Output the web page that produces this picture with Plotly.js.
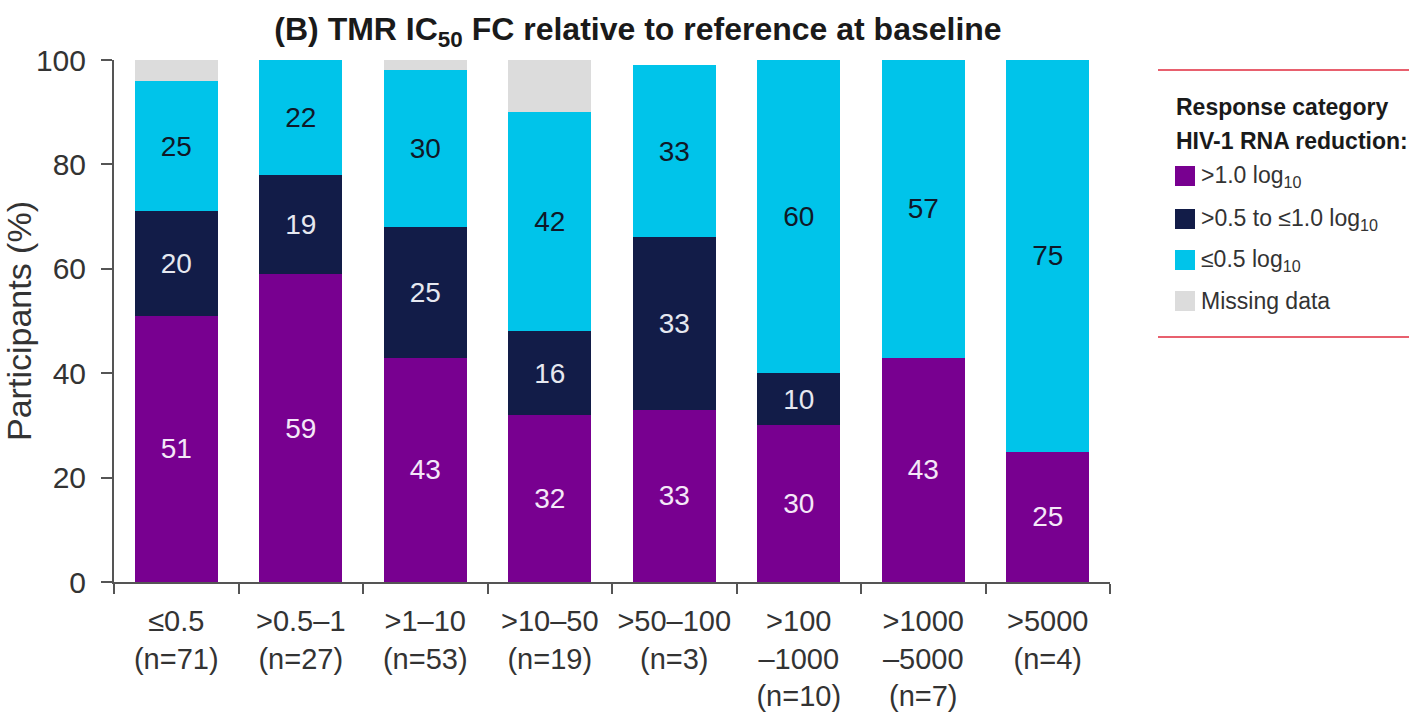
<!DOCTYPE html>
<html>
<head>
<meta charset="utf-8">
<script src="https://cdn.plot.ly/plotly-3.0.1.min.js"></script>
<style>
  html, body { margin: 0; padding: 0; background: #ffffff; }
  #chart { width: 1409px; height: 716px; }
</style>
</head>
<body>
<div id="chart"></div>
<script>
// Fold-change bins of baseline TMR IC50 relative to reference
const categories = [
  '≤0.5<br>(n=71)',
  '>0.5–1<br>(n=27)',
  '>1–10<br>(n=53)',
  '>10–50<br>(n=19)',
  '>50–100<br>(n=3)',
  '>100<br>–1000<br>(n=10)',
  '>1000<br>–5000<br>(n=7)',
  '>5000<br>(n=4)'
];

// Percent of participants per response category (null = no segment)
const above1_0 = [51, 59, 43, 32, 33, 30, 43, 25];
const from0_5to1_0 = [20, 19, 25, 16, 33, 10, null, null];
const upTo0_5 = [25, 22, 30, 42, 33, 60, 57, 75];
const missingData = [4, null, 2, 10, null, null, null, null];

const seriesNames = ['>1.0 log<sub>10</sub>', '>0.5 to ≤1.0 log<sub>10</sub>', '≤0.5 log<sub>10</sub>', 'Missing data'];
const seriesColors = ['#780090', '#121c48', '#00c4ea', '#dcdcdc'];
const labelColors = ['#f4e8f8', '#e6e8f0', '#101828', '#dcdcdc'];

const FONT = 'Liberation Sans, Arial, sans-serif';

function barTrace(values, i, withLabels) {
  return {
    type: 'bar',
    x: categories,
    y: values,
    name: seriesNames[i],
    marker: { color: seriesColors[i], line: { width: 0 } },
    text: withLabels ? values.map(v => (v === null ? '' : String(v))) : undefined,
    texttemplate: withLabels ? '%{text}' : undefined,
    textposition: withLabels ? 'inside' : 'none',
    insidetextanchor: 'middle',
    textangle: 0,
    constraintext: 'none',
    textfont: { family: FONT, size: 28, color: labelColors[i] },
    hoverinfo: 'x+y+name',
    showlegend: false
  };
}

const traces = [
  barTrace(above1_0, 0, true),
  barTrace(from0_5to1_0, 1, true),
  barTrace(upTo0_5, 2, true),
  barTrace(missingData, 3, false)
];

// Plot area geometry in pixels
const W = 1409, H = 716;
const M = { l: 114, r: 299, t: 60, b: 134 };
const plotW = W - M.l - M.r;
const plotH = H - M.t - M.b;
const px = x => (x - M.l) / plotW;
const py = y => (M.t + plotH - y) / plotH;

// Custom legend: swatches and labels to the right of the plot
const shapes = [
  { type: 'line', xref: 'paper', yref: 'paper', x0: px(1158), x1: px(1409), y0: py(70), y1: py(70),
    line: { color: '#e8606e', width: 2 } },
  { type: 'line', xref: 'paper', yref: 'paper', x0: px(1158), x1: px(1409), y0: py(337), y1: py(337),
    line: { color: '#e8606e', width: 2 } }
];
const annotations = [
  { xref: 'paper', yref: 'paper', x: px(1174), y: py(107), xanchor: 'left', yanchor: 'middle',
    text: '<b>Response category</b>', showarrow: false,
    font: { family: FONT, size: 23, color: '#1a1a1a' } },
  { xref: 'paper', yref: 'paper', x: px(1174), y: py(141), xanchor: 'left', yanchor: 'middle',
    text: '<b>HIV-1 RNA reduction:</b>', showarrow: false,
    font: { family: FONT, size: 23, color: '#1a1a1a' } }
];
const rowY = [176, 219, 260, 301];
seriesNames.forEach((name, i) => {
  shapes.push({ type: 'rect', xref: 'paper', yref: 'paper',
    x0: px(1175), x1: px(1195), y0: py(rowY[i] - 10), y1: py(rowY[i] + 10),
    fillcolor: seriesColors[i], line: { width: 0 } });
  annotations.push({ xref: 'paper', yref: 'paper', x: px(1199), y: py(rowY[i]),
    xanchor: 'left', yanchor: 'middle', text: name, showarrow: false,
    font: { family: FONT, size: 23, color: '#333333' } });
});

const layout = {
  width: W,
  height: H,
  margin: M,
  paper_bgcolor: '#ffffff',
  plot_bgcolor: '#ffffff',
  barmode: 'stack',
  bargap: 0.33,
  showlegend: false,
  title: {
    text: '<b>(B) TMR IC<sub>50</sub> FC relative to reference at baseline</b>',
    font: { family: FONT, size: 32, color: '#1a1a1a' },
    xref: 'paper', x: px(638), xanchor: 'center',
    yref: 'container', y: 1 - 29 / H, yanchor: 'middle'
  },
  font: { family: FONT, color: '#333333' },
  xaxis: {
    type: 'category',
    showline: true,
    linecolor: '#555555',
    linewidth: 2,
    ticks: 'outside',
    tickson: 'boundaries',
    ticklen: 10,
    tickcolor: '#555555',
    tickwidth: 2,
    tickangle: 0,
    ticklabelstandoff: 12,
    tickfont: { family: FONT, size: 29, color: '#333333' },
    showgrid: false,
    zeroline: false
  },
  yaxis: {
    range: [0, 100],
    tickvals: [0, 20, 40, 60, 80, 100],
    showline: true,
    linecolor: '#555555',
    linewidth: 2,
    ticks: 'outside',
    ticklen: 11,
    tickcolor: '#555555',
    tickwidth: 2,
    ticklabelstandoff: 9,
    tickfont: { family: FONT, size: 30, color: '#333333' },
    showgrid: false,
    zeroline: false,
    title: { text: 'Participants (%)', font: { family: FONT, size: 34, color: '#333333' }, standoff: 0 }
  },
  shapes: shapes,
  annotations: annotations
};

Plotly.newPlot('chart', traces, layout, { displayModeBar: false, staticPlot: true });
</script>
</body>
</html>
